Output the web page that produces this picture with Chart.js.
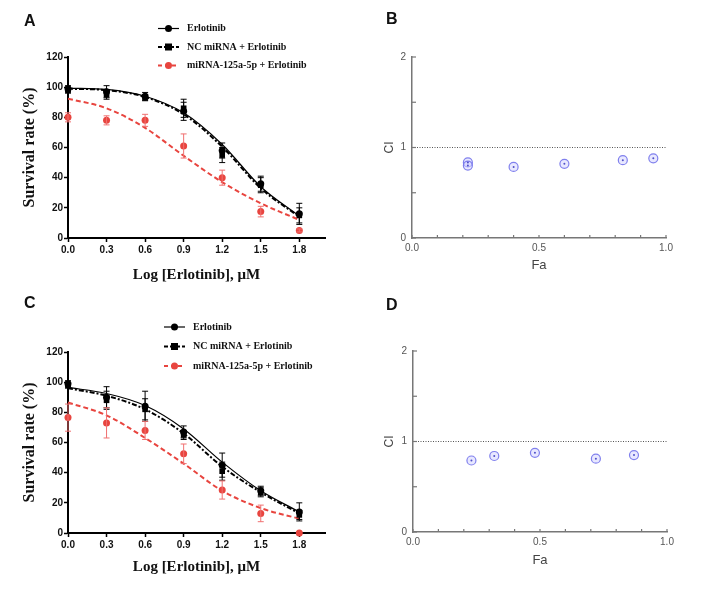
<!DOCTYPE html>
<html>
<head>
<meta charset="utf-8">
<script src="https://cdn.jsdelivr.net/npm/chart.js@4.4.1/dist/chart.umd.min.js"></script>
<style>
body { margin: 0; background: #fff; width: 708px; height: 599px; position: relative; overflow: hidden; }
canvas { position: absolute; }
.letter { position: absolute; font: bold 16px "Liberation Sans", Arial, sans-serif; color: #111; }
</style>
</head>
<body>
<canvas id="cA" width="354" height="290" style="left:0;top:0"></canvas>
<canvas id="cB" width="354" height="290" style="left:354px;top:0"></canvas>
<canvas id="cC" width="354" height="309" style="left:0;top:290px"></canvas>
<canvas id="cD" width="354" height="309" style="left:354px;top:290px"></canvas>
<div class="letter" style="left:24px;top:12px">A</div>
<div class="letter" style="left:386px;top:10px">B</div>
<div class="letter" style="left:24px;top:294px">C</div>
<div class="letter" style="left:386px;top:296px">D</div>
<script>
// data
const doses = [0, 0.3, 0.6, 0.9, 1.2, 1.5, 1.8];
const doseTicks = [0, 0.3, 0.6, 0.9, 1.2, 1.5, 1.8];
const rateTicks = [0, 20, 40, 60, 80, 100, 120];
const seriesNames = ['Erlotinib', 'NC miRNA + Erlotinib', 'miRNA-125a-5p + Erlotinib'];

// panel A
const erlA = [99, 97, 94, 84, 58, 36, 16];
const erlErrA = [2, 4, 2.5, 6, 5, 5, 7];
const ncA = [98, 95, 93, 86, 55, 35, 15];
const ncErrA = [2, 3, 2, 6, 5, 5, 5];
const mirA = [80, 78, 78, 61, 40, 17.5, 5];
const mirErrA = [3, 3, 4, 8, 5, 3.5, 1];
const erlFitA = [99.4, 98.5, 94, 83, 62, 34, 14.5];
const ncFitA = [99, 98, 93.5, 82, 60.5, 33, 14];
const mirFitA = [92.4, 86, 73, 54.5, 37, 23, 12];

// panel C
const erlC = [99, 90, 84, 67, 45, 28, 14];
const erlErrC = [2, 7, 10, 4, 8, 3, 6];
const ncC = [98, 88, 82, 65, 41, 27, 12];
const ncErrC = [2, 6, 7, 3, 6, 3, 3];
const mirC = [76.5, 73, 68, 52.5, 28.5, 13, 0];
const mirErrC = [9, 10, 6, 6.5, 6, 5.5, 0];
const erlFitC = [96.5, 92.5, 84.5, 69, 47, 28, 14];
const ncFitC = [96, 91, 82, 66, 44, 27, 13];
const mirFitC = [86.5, 78, 63, 46, 28, 16.5, 9.5];

// panels B and D
const faTicks = [0, 0.1, 0.2, 0.3, 0.4, 0.5, 0.6, 0.7, 0.8, 0.9, 1.0];
const faLabels = [0, 0.5, 1.0];
const ciTicks = [0, 0.5, 1, 1.5, 2];
const ciLabels = [0, 1, 2];
const faB = [0.22, 0.22, 0.40, 0.60, 0.83, 0.95];
const ciB = [0.835, 0.80, 0.785, 0.82, 0.86, 0.88];
const faD = [0.23, 0.32, 0.48, 0.72, 0.87];
const ciD = [0.79, 0.84, 0.875, 0.81, 0.85];
const ciRef = [{x: 0, y: 1}, {x: 1, y: 1}];

const RED = '#e8453f';
const pts = (xs, ys) => xs.map((x, i) => ({x: x, y: ys[i]}));

const errorBars = {
  id: 'errorBars',
  afterDatasetsDraw(chart) {
    const {ctx, scales: {x, y}} = chart;
    chart.data.datasets.forEach(ds => {
      if (!ds.errors) return;
      ctx.save();
      ctx.strokeStyle = ds.errColor || ds.borderColor;
      ctx.lineWidth = 1;
      ds.data.forEach((p, j) => {
        const e = ds.errors[j];
        if (!e) return;
        const px = x.getPixelForValue(p.x);
        const t = y.getPixelForValue(p.y + e), b = y.getPixelForValue(p.y - e);
        ctx.beginPath();
        ctx.moveTo(px, t); ctx.lineTo(px, b);
        ctx.moveTo(px - 3, t); ctx.lineTo(px + 3, t);
        ctx.moveTo(px - 3, b); ctx.lineTo(px + 3, b);
        ctx.stroke();
      });
      ctx.restore();
    });
  }
};

const doseLegend = {
  id: 'doseLegend',
  afterDraw(chart, args, o) {
    const ctx = chart.ctx;
    o.items.forEach((it, i) => {
      const y = o.y + i * o.dy;
      ctx.save();
      ctx.strokeStyle = it.color;
      ctx.lineWidth = it.width;
      ctx.setLineDash(it.dash);
      ctx.beginPath();
      ctx.moveTo(o.x, y); ctx.lineTo(o.x + 21, y);
      ctx.stroke();
      ctx.setLineDash([]);
      ctx.fillStyle = it.color;
      const mx = o.x + 10.5;
      if (it.marker === 'rect') ctx.fillRect(mx - 3.5, y - 3.5, 7, 7);
      else { ctx.beginPath(); ctx.arc(mx, y, 3.5, 0, Math.PI * 2); ctx.fill(); }
      ctx.fillStyle = '#111';
      ctx.font = 'bold 10px "Liberation Serif", "Times New Roman", serif';
      ctx.textBaseline = 'middle';
      ctx.fillText(it.label, o.textX, y);
      ctx.restore();
    });
  }
};

const innerTicks = {
  id: 'innerTicks',
  afterDraw(chart) {
    const {ctx, chartArea: a, scales: {x, y}} = chart;
    ctx.save();
    ctx.strokeStyle = '#777';
    ctx.lineWidth = 1.2;
    faTicks.forEach(v => {
      const px = x.getPixelForValue(v);
      ctx.beginPath(); ctx.moveTo(px, a.bottom); ctx.lineTo(px, a.bottom - 3); ctx.stroke();
    });
    ciTicks.forEach(v => {
      const py = y.getPixelForValue(v);
      ctx.beginPath(); ctx.moveTo(a.left, py); ctx.lineTo(a.left + 4, py); ctx.stroke();
    });
    ctx.restore();
  }
};

function doseChart(id, o) {
  return new Chart(document.getElementById(id), {
    type: 'scatter',
    data: {
      datasets: [
        {label: seriesNames[0], data: pts(doses, o.erl), errors: o.erlErr, pointStyle: 'circle', pointRadius: 3.5,
         backgroundColor: '#000', borderColor: '#000', borderWidth: 0, order: 0, clip: false},
        {label: seriesNames[1], data: pts(doses, o.nc), errors: o.ncErr, pointStyle: 'rect', pointRadius: 4,
         backgroundColor: '#000', borderColor: '#000', borderWidth: 0, order: 0, clip: false},
        {label: seriesNames[2], data: pts(doses, o.mir), errors: o.mirErr, errColor: '#f07070', pointStyle: 'circle', pointRadius: 3.5,
         backgroundColor: RED, borderColor: RED, borderWidth: 0, order: 0, clip: false},
        {data: pts(doses, o.erlFit), showLine: true, pointRadius: 0, borderColor: '#000', borderWidth: 1.2,
         cubicInterpolationMode: 'monotone', order: 1},
        {data: pts(doses, o.ncFit), showLine: true, pointRadius: 0, borderColor: '#000', borderWidth: 2,
         borderDash: [5, 2, 2, 2], cubicInterpolationMode: 'monotone', order: 1},
        {data: pts(doses, o.mirFit), showLine: true, pointRadius: 0, borderColor: RED, borderWidth: 2,
         borderDash: [5, 3], cubicInterpolationMode: 'monotone', order: 1}
      ]
    },
    options: {
      responsive: false,
      animation: false,
      layout: {padding: {top: o.top, right: 29, left: 0, bottom: 0}},
      plugins: {
        legend: {display: false},
        tooltip: {enabled: false},
        doseLegend: {
          x: o.lx, textX: o.lx + 29, y: o.ly, dy: o.ldy,
          items: [
            {label: seriesNames[0], color: '#000', width: 1.2, dash: [], marker: 'circle'},
            {label: seriesNames[1], color: '#000', width: 2, dash: [4, 2], marker: 'rect'},
            {label: seriesNames[2], color: RED, width: 2, dash: [4, 3], marker: 'circle'}
          ]
        }
      },
      scales: {
        x: {
          type: 'linear', min: 0, max: 2,
          afterBuildTicks: s => { s.ticks = doseTicks.map(v => ({value: v})); },
          afterFit: s => { s.height = o.xh; },
          ticks: {callback: v => v.toFixed(1), color: '#111', padding: 2,
                  font: {family: 'Liberation Sans', weight: 'bold', size: 10}},
          grid: {drawOnChartArea: false, tickLength: 4, tickColor: '#000', tickWidth: 1.5},
          border: {color: '#000', width: 2},
          title: {display: true, text: 'Log [Erlotinib], μM', color: '#111', padding: {top: 0, bottom: o.xtp},
                  font: {family: 'Liberation Serif', weight: 'bold', size: 15}}
        },
        y: {
          min: 0, max: 120,
          afterBuildTicks: s => { s.ticks = rateTicks.map(v => ({value: v})); },
          afterFit: s => { s.width = 68; },
          ticks: {color: '#111', padding: 1, font: {family: 'Liberation Sans', weight: 'bold', size: 10}},
          grid: {drawOnChartArea: false, tickLength: 4, tickColor: '#000', tickWidth: 1.5},
          border: {color: '#000', width: 2},
          title: {display: true, text: 'Survival rate (%)', color: '#111', padding: {top: 20, bottom: 0},
                  font: {family: 'Liberation Serif', weight: 'bold', size: 16}}
        }
      }
    },
    plugins: [errorBars, doseLegend]
  });
}

function ciChart(id, o) {
  return new Chart(document.getElementById(id), {
    type: 'scatter',
    data: {
      datasets: [
        {data: pts(o.fa, o.ci), pointRadius: 1, backgroundColor: '#5050c8', borderWidth: 0, order: 0},
        {data: pts(o.fa, o.ci), pointRadius: 4.5, backgroundColor: 'rgba(205,205,255,0.45)',
         borderColor: 'rgba(115,115,235,0.9)', borderWidth: 1.2, order: 1},
        {data: ciRef, showLine: true, pointRadius: 0, borderColor: '#555', borderWidth: 1,
         borderDash: [1, 1.5], order: 2}
      ]
    },
    options: {
      responsive: false,
      animation: false,
      layout: {padding: {top: o.top, right: o.right, left: 0, bottom: 0}},
      plugins: {legend: {display: false}, tooltip: {enabled: false}},
      scales: {
        x: {
          type: 'linear', min: 0, max: 1,
          afterBuildTicks: s => { s.ticks = faTicks.map(v => ({value: v})); },
          afterFit: s => { s.height = o.xh; },
          ticks: {autoSkip: false, maxRotation: 0, color: '#555', padding: 4,
                  callback: v => faLabels.some(l => Math.abs(l - v) < 1e-9) ? v.toFixed(1) : '',
                  font: {family: 'Liberation Sans', size: 10}},
          grid: {display: false, drawTicks: false, tickLength: 0},
          border: {color: '#777', width: 1.5},
          title: {display: true, text: 'Fa', color: '#444', padding: {top: 0, bottom: o.xtp},
                  font: {family: 'Liberation Sans', size: 13}}
        },
        y: {
          min: 0, max: 2,
          afterBuildTicks: s => { s.ticks = ciTicks.map(v => ({value: v})); },
          afterFit: s => { s.width = o.left; },
          ticks: {autoSkip: false, color: '#555', padding: 6,
                  callback: v => ciLabels.includes(v) ? String(v) : '',
                  font: {family: 'Liberation Sans', size: 10}},
          grid: {display: false, drawTicks: false, tickLength: 0},
          border: {color: '#777', width: 1.5},
          title: {display: true, text: 'CI', color: '#444', padding: {top: 28, bottom: 0},
                  font: {family: 'Liberation Sans', size: 12}}
        }
      }
    },
    plugins: [innerTicks]
  });
}

doseChart('cA', {erl: erlA, erlErr: erlErrA, nc: ncA, ncErr: ncErrA, mir: mirA, mirErr: mirErrA,
  erlFit: erlFitA, ncFit: ncFitA, mirFit: mirFitA, top: 57, xh: 52, xtp: 6, lx: 158, ly: 28.5, ldy: 18.5});
doseChart('cC', {erl: erlC, erlErr: erlErrC, nc: ncC, ncErr: ncErrC, mir: mirC, mirErr: mirErrC,
  erlFit: erlFitC, ncFit: ncFitC, mirFit: mirFitC, top: 62, xh: 66, xtp: 23, lx: 164, ly: 37, ldy: 19.5});
ciChart('cB', {fa: faB, ci: ciB, top: 57, right: 42, left: 58, xh: 52, xtp: 17});
ciChart('cD', {fa: faD, ci: ciD, top: 61, right: 41, left: 59, xh: 67, xtp: 31});
</script>
</body>
</html>
